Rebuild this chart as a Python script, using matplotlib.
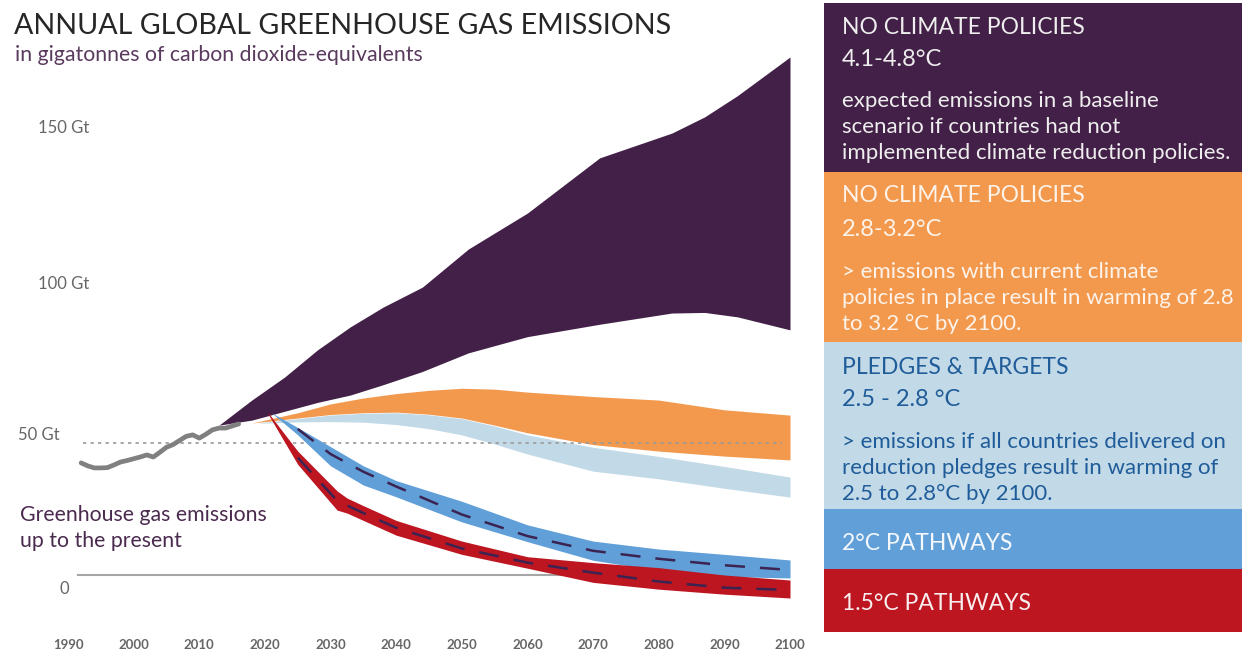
import matplotlib.pyplot as plt
from matplotlib.patches import Rectangle

# historic emissions (Gt CO2e)
hist_years = [1992, 1993, 1994, 1995, 1996, 1997, 1998, 1999, 2000, 2001, 2002, 2003, 2004,
              2005, 2006, 2007, 2008, 2009, 2010, 2011, 2012, 2013, 2014, 2015, 2016]
hist_vals = [38.0, 37.0, 36.3, 36.3, 36.4, 37.3, 38.3, 38.8, 39.4, 40.0, 40.7, 40.0, 41.6,
             43.3, 44.2, 45.6, 47.0, 47.5, 46.4, 47.7, 49.2, 49.8, 49.8, 50.5, 51.2]

# no climate policies (baseline)
base_years = [2013, 2018, 2023, 2028, 2033, 2038, 2044, 2051, 2060, 2071, 2082, 2087, 2092, 2100]
base_hi = [50.8, 59.3, 67.1, 76.3, 84.1, 90.8, 97.6, 110.5, 122.7, 141.4, 149.8, 155.3, 162.5, 175.6]
base_lo = [50.8, 52.5, 55.5, 58.5, 61.0, 64.5, 69.0, 75.3, 80.8, 85.0, 88.8, 89.0, 87.5, 83.1]

# current policies
cur_years = [2018, 2020, 2025, 2030, 2035, 2040, 2045, 2050, 2055, 2060, 2070, 2080, 2090, 2100]
cur_hi = [51.5, 52.5, 55.0, 58.0, 60.0, 61.5, 62.6, 63.3, 63.0, 62.0, 60.5, 59.3, 56.0, 54.2]
cur_lo = [51.5, 52.0, 53.2, 54.4, 55.0, 55.2, 54.5, 53.2, 50.8, 48.2, 44.2, 42.0, 40.3, 39.0]

# pledges & targets
pledge_years = [2019, 2020, 2025, 2030, 2035, 2040, 2045, 2050, 2055, 2060, 2070, 2080, 2090, 2100]
pledge_hi = [51.5, 51.8, 53.0, 54.2, 54.8, 55.0, 54.3, 53.0, 50.5, 47.5, 43.3, 40.2, 36.8, 33.2]
pledge_lo = [51.5, 51.5, 51.9, 52.0, 51.8, 51.0, 49.6, 47.5, 44.4, 41.0, 35.2, 32.6, 29.4, 26.4]

# 2 degree pathways
two_years = [2021, 2025, 2030, 2035, 2040, 2050, 2060, 2070, 2080, 2090, 2100]
two_hi = [55.0, 50.0, 43.5, 37.0, 32.0, 25.0, 17.0, 11.5, 8.8, 7.0, 5.1]
two_lo = [55.0, 47.5, 37.0, 30.5, 26.5, 18.0, 11.3, 5.0, 1.5, -0.5, -1.0]
two_mid = [54.5, 49.5, 41.0, 35.0, 30.0, 20.5, 13.2, 8.2, 5.5, 3.3, 1.7]

# 1.5 degree pathways
one5_years = [2020.5, 2025, 2031, 2032.5, 2035, 2040, 2050, 2060, 2070, 2080, 2090, 2100]
one5_hi = [55.0, 42.0, 28.5, 26.1, 23.5, 18.5, 11.5, 6.2, 4.2, 2.5, 0.0, -1.7]
one5_lo = [54.5, 37.5, 22.0, 21.0, 18.5, 13.5, 7.0, 2.3, -2.5, -4.8, -6.5, -7.8]
one5_mid = [54.5, 39.8, 25.2, 23.6, 21.0, 16.0, 9.0, 4.2, 0.8, -2.2, -4.3, -5.1]

present_level = 44.7
tick_years = [1990, 2000, 2010, 2020, 2030, 2040, 2050, 2060, 2070, 2080, 2090, 2100]

PURPLE = '#432047'
ORANGE = '#f2994e'
LIGHT = '#c2d9e7'
BLUE = '#609fd8'
RED = '#bd1621'
DASH = '#3b2352'

plt.rcParams['font.family'] = ['Lato', 'DejaVu Sans']

W, H = 1242, 651
fig = plt.figure(figsize=(W / 100, H / 100), dpi=100)


def px(x, y):
    return x / W, 1 - y / H


# main chart: 1990 at 68px, 2100 at 790px, 0 Gt at 575px, 2.95 px per Gt
sx = (790 - 68) / 110
ax = fig.add_axes([0, 0, 800 / W, 1])
ax.set_xlim(1990 - 68 / sx, 1990 + (800 - 68) / sx)
ax.set_ylim((575 - 651) / 2.95, 575 / 2.95)
ax.axis('off')

ax.plot([1991.5, 2099.5], [0, 0], color='#a6a6a6', lw=1.5, zorder=1)
ax.fill_between(base_years, base_lo, base_hi, color=PURPLE, lw=0, zorder=2)
ax.fill_between(cur_years, cur_lo, cur_hi, color=ORANGE, lw=0, zorder=2)
ax.fill_between(pledge_years, pledge_lo, pledge_hi, color=LIGHT, lw=0, zorder=2)
ax.plot([1992.3, 2098.8], [present_level, present_level], color='#9a9a9a', lw=1.2,
        ls=(0, (2, 2.5)), zorder=3)
ax.fill_between(two_years, two_lo, two_hi, color=BLUE, lw=0, zorder=4)
ax.fill_between(one5_years, one5_lo, one5_hi, color=RED, lw=0, zorder=4)
ax.plot(two_years[1:], two_mid[1:], color=DASH, lw=1.8, ls=(0, (8, 6)), zorder=5)
ax.plot(one5_years[1:], one5_mid[1:], color=DASH, lw=1.8, ls=(0, (8, 6)), zorder=5)
ax.plot(hist_years, hist_vals, color='#808080', lw=3.4, solid_capstyle='round', zorder=3)

for yr in tick_years:
    ax.text(yr, -23.7, str(yr), ha='center', va='center', fontsize=9.5,
            fontweight='bold', color='#666666')

# y labels
for label, x, y in [('150 Gt', 38, 128), ('100 Gt', 38, 284), ('50 Gt', 18, 435), ('0', 60, 589)]:
    fig.text(*px(x, y), label, ha='left', va='center', fontsize=12, color='#666666')

fig.text(*px(14, 26), 'ANNUAL GLOBAL GREENHOUSE GAS EMISSIONS', ha='left', va='center',
         fontsize=20.6, color='#262626')
fig.text(*px(15, 55), 'in gigatonnes of carbon dioxide-equivalents', ha='left', va='center',
         fontsize=15.3, color='#5a3a5e')
fig.text(*px(20, 515), 'Greenhouse gas emissions', ha='left', va='center', fontsize=15.3,
         color='#4a2a4e')
fig.text(*px(20, 541), 'up to the present', ha='left', va='center', fontsize=15.3,
         color='#4a2a4e')

# legend panel on the right
ax2 = fig.add_axes([824 / W, 0, (W - 824) / W, 1])
ax2.set_xlim(824, W)
ax2.set_ylim(H, 0)
ax2.axis('off')

boxes = [(3, 172, PURPLE), (172, 342, ORANGE), (342, 509, LIGHT), (509, 569, BLUE), (569, 632, RED)]
for top, bot, col in boxes:
    ax2.add_patch(Rectangle((824, top), W - 824, bot - top, color=col, lw=0))

TX = 842
hdr = dict(ha='left', va='center', fontsize=16.5)
deg = dict(ha='left', va='center', fontsize=17)
body = dict(ha='left', va='center', fontsize=16)

ax2.text(TX, 27, 'NO CLIMATE POLICIES', color='#eeeeee', **hdr)
ax2.text(TX, 60, '4.1-4.8°C', color='#eeeeee', **deg)
for i, line in enumerate(['expected emissions in a baseline', 'scenario if countries had not',
                          'implemented climate reduction policies.']):
    ax2.text(TX, 101 + 26 * i, line, color='#eeeeee', **body)

ax2.text(TX, 195, 'NO CLIMATE POLICIES', color='#fdf3ea', **hdr)
ax2.text(TX, 229, '2.8-3.2°C', color='#fdf3ea', **deg)
for i, line in enumerate(['> emissions with current climate',
                          'policies in place result in warming of 2.8',
                          'to 3.2 °C by 2100.']):
    ax2.text(TX, 272 + 26 * i, line, color='#fdf3ea', **body)

ax2.text(TX, 367, 'PLEDGES & TARGETS', color='#1f5c99', **hdr)
ax2.text(TX, 400, '2.5 - 2.8 °C', color='#1f5c99', **deg)
for i, line in enumerate(['> emissions if all countries delivered on',
                          'reduction pledges result in warming of',
                          '2.5 to 2.8°C by 2100.']):
    ax2.text(TX, 442 + 26 * i, line, color='#1f5c99', **body)

ax2.text(TX, 543, '2°C PATHWAYS', color='#f4f8fc', **hdr)
ax2.text(TX, 603, '1.5°C PATHWAYS', color='#f8eeee', **hdr)

fig.savefig('out.png', dpi=100)
